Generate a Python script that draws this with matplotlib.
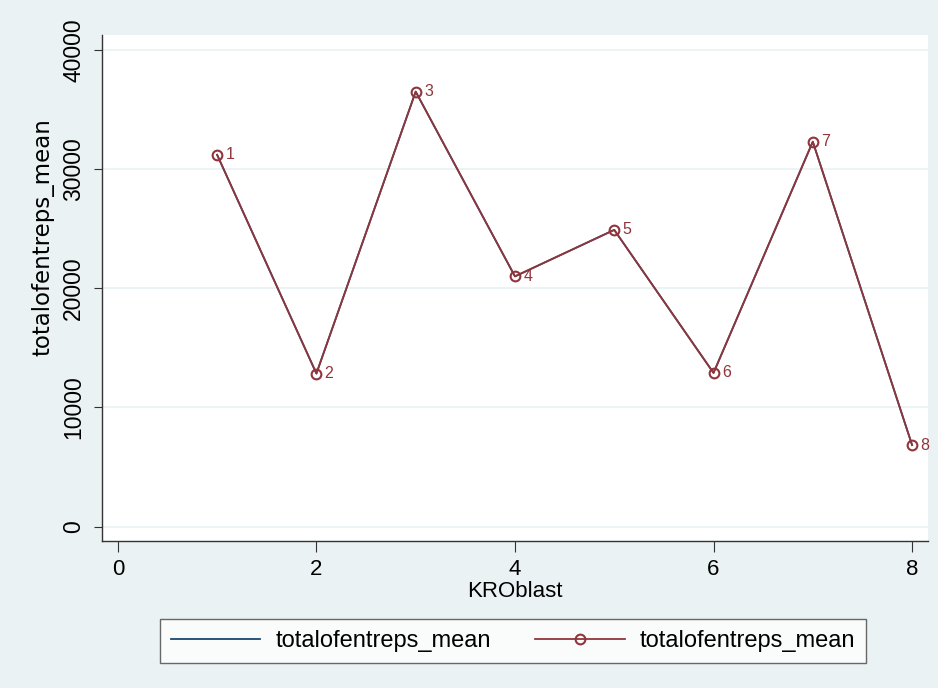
import matplotlib
matplotlib.use('Agg')
import matplotlib.pyplot as plt

plt.rcParams['font.family'] = ['Liberation Sans', 'DejaVu Sans']

kroblast = [1, 2, 3, 4, 5, 6, 7, 8]
entreps_mean = [31200, 12850, 36500, 21000, 24900, 12900, 32300, 6850]
point_labels = ['1', '2', '3', '4', '5', '6', '7', '8']
xticks = [0, 2, 4, 6, 8]
yticks = [0, 10000, 20000, 30000, 40000]

navy = '#1a476f'
maroon = '#90353b'
bg = '#eaf2f3'

fig = plt.figure(figsize=(9.38, 6.88), dpi=100, facecolor=bg)
ax = fig.add_axes([0.1087, 0.2137, 0.8806, 0.7354])
ax.set_facecolor('white')

ax.plot(kroblast, entreps_mean, color=navy, lw=1.3, label='totalofentreps_mean', zorder=2)
ax.plot(kroblast, entreps_mean, color=maroon, lw=1.3, marker='o', ms=7, mfc='none',
        mew=1.5, label='totalofentreps_mean', zorder=3)
for x, y, t in zip(kroblast, entreps_mean, point_labels):
    ax.annotate(t, (x, y), xytext=(6, 0), textcoords='offset points', va='center',
                ha='left', color=maroon, fontsize=11.5)

ax.set_xlim(-0.16, 8.16)
ax.set_ylim(-1200, 41250)
ax.set_xticks(xticks)
ax.set_yticks(yticks)
ax.set_yticklabels([str(v) for v in yticks], rotation=90, va='center')
ax.tick_params(axis='x', labelsize=16, length=8, color='#333333', pad=5)
ax.tick_params(axis='y', labelsize=16.5, length=6, color='#333333', pad=6)
ax.grid(axis='y', color=bg, lw=1.3)
ax.set_axisbelow(True)
for s in ['top', 'right']:
    ax.spines[s].set_visible(False)
for s in ['left', 'bottom']:
    ax.spines[s].set_color('#333333')
    ax.spines[s].set_linewidth(1.0)

ax.set_xlabel('KROblast', fontsize=16)
ax.xaxis.set_label_coords(0.5, -0.080)
ax.set_ylabel('totalofentreps_mean', fontsize=16.5, family=['DejaVu Sans'])
ax.yaxis.set_label_coords(-0.058, 0.6)

leg = fig.legend(loc='center', bbox_to_anchor=(0.547, 0.0683), ncol=2, frameon=True,
                 fancybox=False, edgecolor='#444444', fontsize=17, handlelength=3.8,
                 columnspacing=1.85, handletextpad=0.65, borderpad=0.45)
leg.get_frame().set_linewidth(1.0)

plt.savefig('out.png', dpi=100, facecolor=bg)
